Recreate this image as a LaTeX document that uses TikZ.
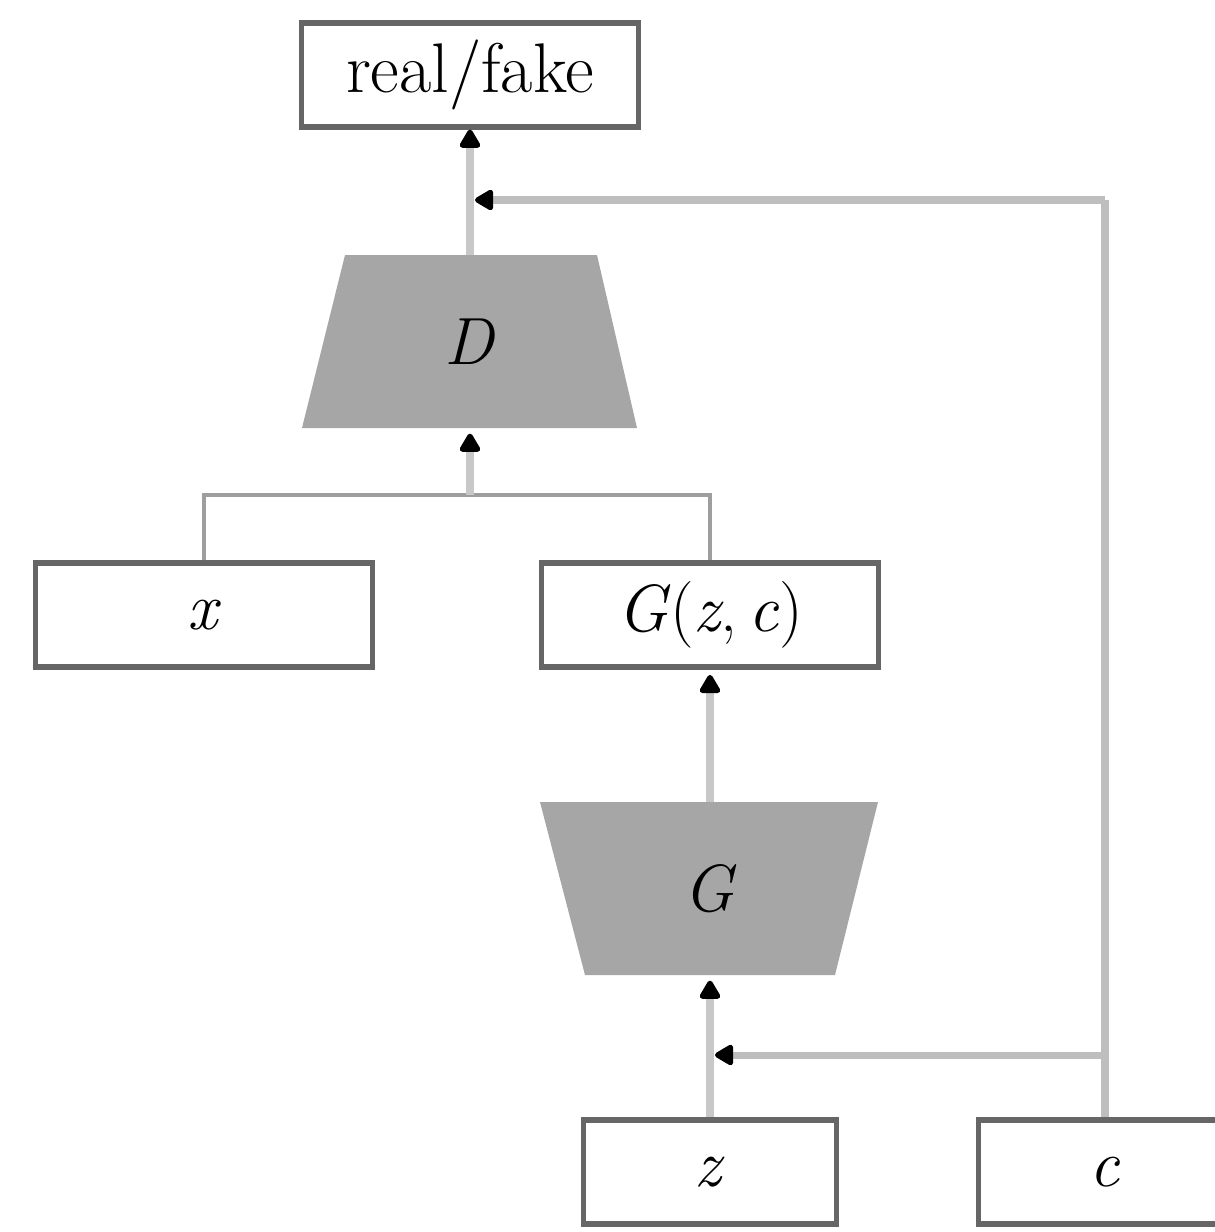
\documentclass[tikz,border=0pt]{standalone}
\usepackage{fontspec}
\usetikzlibrary{arrows.meta}
\definecolor{boxedge}{HTML}{666666}
\definecolor{flowline}{HTML}{C8C8C8}
\definecolor{teeline}{HTML}{9E9E9E}
\definecolor{condline}{HTML}{BEBEBE}
\definecolor{netfill}{HTML}{A6A6A6}
\newcommand{\var}[1]{\textit{#1}}
\begin{document}
\begin{tikzpicture}[x=0.02cm,y=-0.02cm,
  label font/.style={font=\fontsize{40}{46}\selectfont},
  var font/.style={font=\fontsize{38}{44}\selectfont},
  box/.style={draw=boxedge, line width=3pt, fill=white, inner sep=0pt,
    minimum width=6.74cm, minimum height=2.08cm, var font},
  smallbox/.style={box, minimum width=5.06cm},
  netbody/.style={inner sep=0pt, minimum height=3.46cm, var font},
  tip/.style={-{Triangle[width=13pt,length=12pt,round,color=black,fill=black]}},
  flow/.style={draw=flowline, line width=4.5pt, tip},
  tee/.style={draw=teeline, line width=2.5pt},
  cond/.style={draw=condline, line width=4pt},
]
\useasboundingbox (0,0) rectangle (1215,1232);
\clip (0,0) rectangle (1215,1232);

% generator and discriminator bodies
\fill[netfill] (345,255) -- (597,255) -- (637,428) -- (302,428) -- cycle;
\node[netbody, minimum width=6.7cm] (D) at (470,341.5) {\var{D}};
\fill[netfill] (540,802) -- (878,802) -- (835,975) -- (585,975) -- cycle;
\node[netbody, minimum width=6.76cm] (G) at (710,888.5) {\var{G}};

% boxes
\node[box, label font] (rf) at (470,75) {real/fake};
\node[box] (x)   at (204,615)  {\var{x}};
\node[box] (gzc) at (710,615)  {\var{G}(\var{z},\,\var{c})};
\node[smallbox] (z) at (710,1172) {\var{z}};
\node[smallbox] (c) at (1105,1172) {\var{c}};

% junction points
\coordinate (join) at (470,495);
\coordinate (cTop) at (1105,200);
\coordinate (cMid) at (1105,1055);
\coordinate (cD)   at (475,200);
\coordinate (cG)   at (715,1055);

% real and generated samples merge into D
\draw[tee] (x.north) |- (join) -| (gzc.north);
\draw[flow, shorten >=3pt] (join) -- (D.south);
\draw[flow] (D.north) -- (rf.south);
\draw[flow, shorten >=3pt] (G.north) -- (gzc.south);
\draw[flow, shorten >=3pt] (z.north) -- (G.south);

% condition c feeds both networks
\draw[cond] (c.north) -- (cTop);
\draw[cond, tip] (cTop) -- (cD);
\draw[cond, tip] (cMid) -- (cG);
\end{tikzpicture}
\end{document}
